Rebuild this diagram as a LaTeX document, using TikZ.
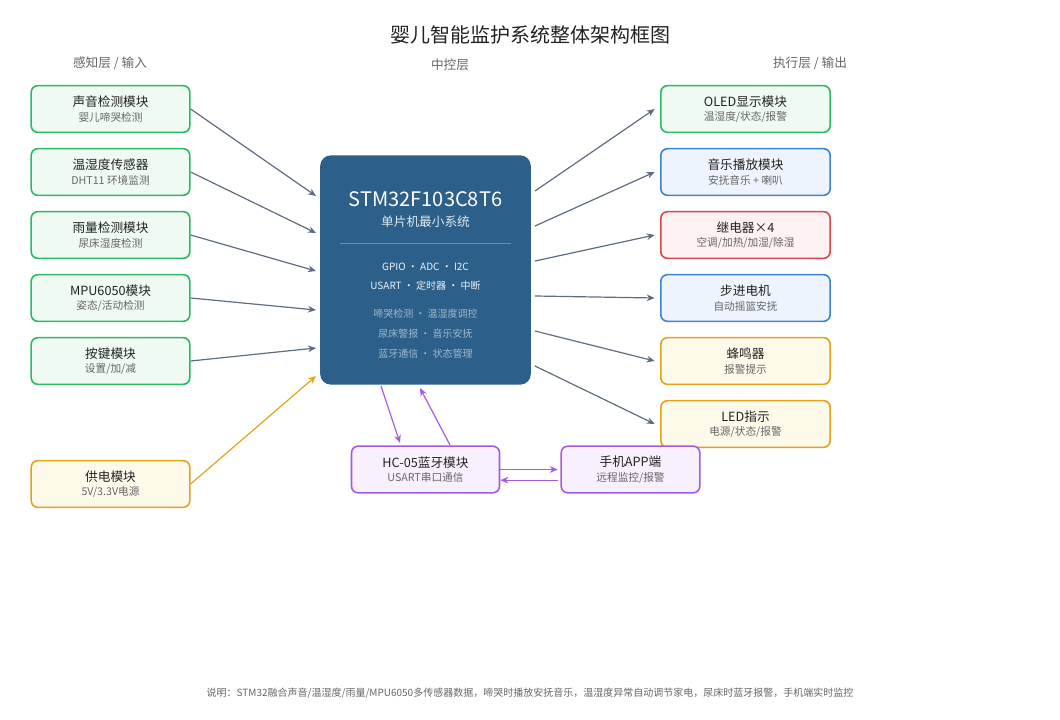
\documentclass[tikz,border=0pt]{standalone}
\usepackage{fontspec}
\setmainfont{Noto Sans CJK SC}
\usetikzlibrary{arrows.meta}
\definecolor{grn}{HTML}{2DB866}\definecolor{grnf}{HTML}{EFFAF3}
\definecolor{blu}{HTML}{3D82D6}\definecolor{bluf}{HTML}{EEF4FD}
\definecolor{rd}{HTML}{D9474B}\definecolor{rdf}{HTML}{FDF1F1}
\definecolor{org}{HTML}{E3A21E}\definecolor{orgf}{HTML}{FEFAEA}
\definecolor{pur}{HTML}{A45BE0}\definecolor{purf}{HTML}{F8F1FD}
\definecolor{mcu}{HTML}{2C5F8A}\definecolor{lnk}{HTML}{5E6C80}
\definecolor{txt}{HTML}{222222}\definecolor{sub}{HTML}{666666}
\newcommand{\boxtxt}[2]{{\fontsize{9.5}{11}\selectfont #1}\\[-1pt]{\fontsize{8}{10}\selectfont\color{sub}#2}}
\begin{document}
\begin{tikzpicture}[x=0.75pt,y=-0.75pt,
  module/.style={draw, line width=1.2pt, rounded corners=5pt, align=center, minimum width=119pt, minimum height=35pt, inner sep=0pt, text=txt},
  sensor/.style={module, draw=grn, fill=grnf},
  power/.style={module, draw=org, fill=orgf},
  actor/.style={module, draw=#1, fill=#1f, minimum width=127pt},
  bt/.style={module, draw=pur, fill=purf},
  fleche/.style={-{Stealth[length=6pt,width=5pt]}, line width=0.9pt, draw=lnk},
  layer/.style={text=sub, font=\fontsize{9.5}{11}\selectfont}]
\useasboundingbox (0,0) rectangle (1060,720);

\node[font=\fontsize{15}{18}\selectfont, text=txt] (title) at (530,35) {婴儿智能监护系统整体架构框图};
\node[layer] (lin) at (110,63) {感知层 / 输入};
\node[layer] (lmid) at (450,65) {中控层};
\node[layer] (lout) at (810,63) {执行层 / 输出};

% inputs
\node[sensor] (sound) at (110.5,109) {\boxtxt{声音检测模块}{婴儿啼哭检测}};
\node[sensor] (dht) at (110.5,172) {\boxtxt{温湿度传感器}{DHT11 环境监测}};
\node[sensor] (rain) at (110.5,235) {\boxtxt{雨量检测模块}{尿床湿度检测}};
\node[sensor] (mpu) at (110.5,298) {\boxtxt{MPU6050模块}{姿态/活动检测}};
\node[sensor] (key) at (110.5,361) {\boxtxt{按键模块}{设置/加/减}};
\node[power] (pwr) at (110.5,484) {\boxtxt{供电模块}{5V/3.3V电源}};

% mcu
\node[fill=mcu, rounded corners=8pt, minimum width=158pt, minimum height=172pt] (mcu) at (425.5,270) {};
\node[text=white, font=\fontsize{15}{18}\selectfont] (mname) at (425.5,199) {STM32F103C8T6};
\node[text=white!85!mcu, font=\fontsize{9.5}{11}\selectfont] (msub) at (425.5,222) {单片机最小系统};
\draw[white!30!mcu, line width=0.5pt] (340,243) -- (511,243);
\node[text=white!92!mcu, align=center, font=\fontsize{7.5}{14}\selectfont] (mper) at (425.5,277) {GPIO · ADC · I2C\\USART · 定时器 · 中断};
\node[text=white!55!mcu, align=center, font=\fontsize{7.5}{15}\selectfont] (mfun) at (425.5,334) {啼哭检测 · 温湿度调控\\尿床警报 · 音乐安抚\\蓝牙通信 · 状态管理};

% outputs
\node[actor=grn] (oled) at (745.5,109) {\boxtxt{OLED显示模块}{温湿度/状态/报警}};
\node[actor=blu] (music) at (745.5,172) {\boxtxt{音乐播放模块}{安抚音乐 + 喇叭}};
\node[actor=rd] (relay) at (745.5,235) {\boxtxt{继电器×4}{空调/加热/加湿/除湿}};
\node[actor=blu] (step) at (745.5,298) {\boxtxt{步进电机}{自动摇篮安抚}};
\node[actor=org] (buzz) at (745.5,361) {\boxtxt{蜂鸣器}{报警提示}};
\node[actor=org] (led) at (745.5,424) {\boxtxt{LED指示}{电源/状态/报警}};

% bluetooth
\node[bt, minimum width=111pt] (hc) at (425.5,469.5) {\boxtxt{HC-05蓝牙模块}{USART串口通信}};
\node[bt, minimum width=104pt] (app) at (630.5,469.5) {\boxtxt{手机APP端}{远程监控/报警}};

% anchor points on the mcu
\foreach \n/\y in {i1/196,i2/233,i3/271,i4/310,i5/348,i6/376} \coordinate (\n) at (316,\y);
\foreach \n/\y in {o1/191,o2/226,o3/261,o4/296,o5/331,o6/366} \coordinate (\n) at (535,\y);
\coordinate (bd) at (381,386); \coordinate (bu) at (420,388);
\coordinate (hd) at (400,443); \coordinate (hu) at (450,445);

\draw[fleche] (sound.east) -- (i1);
\draw[fleche] (dht.east) -- (i2);
\draw[fleche] (rain.east) -- (i3);
\draw[fleche] (mpu.east) -- (i4);
\draw[fleche] (key.east) -- (i5);
\draw[fleche, draw=org] (pwr.east) -- (i6);

\draw[fleche] (o1) -- ([xshift=-4pt]oled.west);
\draw[fleche] (o2) -- ([xshift=-4pt]music.west);
\draw[fleche] (o3) -- ([xshift=-4pt]relay.west);
\draw[fleche] (o4) -- ([xshift=-4pt]step.west);
\draw[fleche] (o5) -- ([xshift=-4pt]buzz.west);
\draw[fleche] (o6) -- ([xshift=-4pt]led.west);

\draw[fleche, draw=pur] (bd) -- (hd);
\draw[fleche, draw=pur] (hu) -- (bu);
\draw[fleche, draw=pur] ([yshift=0pt]hc.east) -- ([xshift=-2pt]app.west);
\draw[fleche, draw=pur] ([yshift=-8pt,xshift=-2pt]app.west) -- ([yshift=-8pt]hc.east);

\node[text=sub, font=\fontsize{7.5}{9}\selectfont] (note) at (530,693) {说明：STM32融合声音/温湿度/雨量/MPU6050多传感器数据，啼哭时播放安抚音乐，温湿度异常自动调节家电，尿床时蓝牙报警，手机端实时监控};
\end{tikzpicture}
\end{document}
